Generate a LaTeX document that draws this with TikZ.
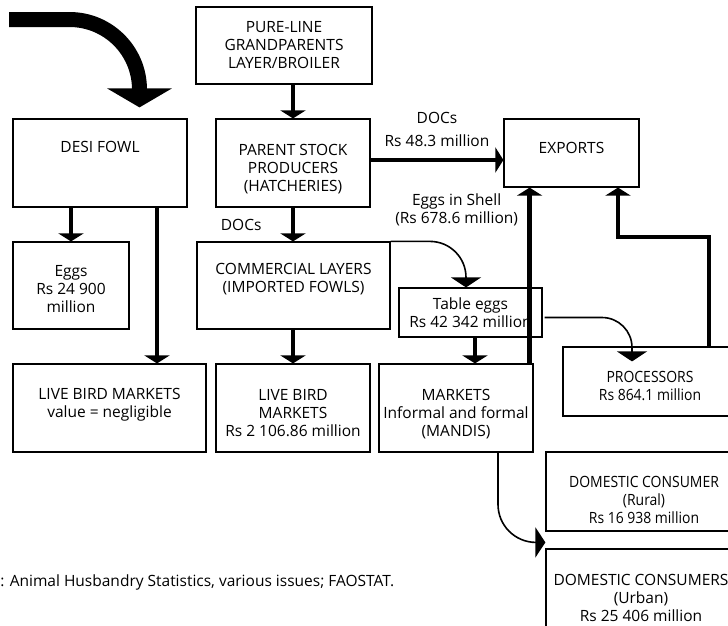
\documentclass[tikz,border=0pt]{standalone}
\usepackage{fontspec}
\setmainfont{Open Sans}
\newfontfamily\narrowsans[FakeStretch=0.9]{Open Sans}
\usetikzlibrary{arrows.meta,positioning}

% struts that move a box's text up or down
\newcommand{\txtup}[1]{\rule[-#1]{0pt}{0pt}}
\newcommand{\txtdown}[1]{\rule{0pt}{#1}}

\begin{document}
\begin{tikzpicture}[
                        x=1pt, y=-1pt,
                        >={Triangle[width=25pt,length=8pt]},
                        font=\fontsize{15.5}{18}\selectfont,
                        semithick
                    ]
                    \tikzstyle{box}=[draw, line width=1.2pt, align=center, inner sep=0pt]
                    \tikzstyle{narrow}=[font=\narrowsans\fontsize{15.5}{18}\selectfont]
                    \tikzstyle{flow}=[->, line width=4.5pt]
                    \tikzstyle{curved}=[-{Triangle[width=30pt,length=10pt]}, line width=1.6pt]

                    \useasboundingbox (0,0) rectangle (728,625);

                    \node[box, minimum width=176pt, minimum height=77pt] (pure)    at (284,45.5)   {PURE-LINE\\GRANDPARENTS\\LAYER/BROILER};
                    \node[box, minimum width=174pt, minimum height=88pt,
                          text depth=32pt]                               (desi)    at (100,163)    {DESI FOWL};
                    \node[box, minimum width=154pt, minimum height=88pt] (parent)  at (293,163)    {\txtdown{24pt}PARENT STOCK\\PRODUCERS\\(HATCHERIES)};
                    \node[box, minimum width=135pt, minimum height=68pt] (exports) at (571.5,153)  {EXPORTS\txtup{10pt}};
                    \node[box, minimum width=116pt, minimum height=87pt] (eggs)    at (71,285.5)   {\txtdown{17.5pt}Eggs\\Rs 24 900\\million};
                    \node[box, minimum width=193pt, minimum height=87pt] (comm)    at (293.5,285.5) {COMMERCIAL LAYERS\\(IMPORTED FOWLS)\txtup{15.5pt}};
                    \node[box, minimum width=143pt, minimum height=49pt] (tegg)    at (470.5,312.5) {Table eggs\\Rs 42 342 million};
                    \node[box, minimum width=193pt, minimum height=88pt] (livel)   at (109.5,408)  {LIVE BIRD MARKETS\\value = negligible\txtup{11pt}};
                    \node[box, minimum width=154pt, minimum height=88pt] (livem)   at (293,408)    {\txtdown{21.5pt}LIVE BIRD\\MARKETS\\Rs 2 106.86 million};
                    \node[box, minimum width=154pt, minimum height=88pt] (mkt)     at (456,408)    {\txtdown{23.5pt}MARKETS\\Informal and formal\\(MANDIS)};
                    \node[box, narrow, minimum width=174pt, minimum height=69pt] (proc) at (650,381.5) {\txtdown{19.5pt}PROCESSORS\\Rs 864.1 million};
                    \node[box, narrow, minimum width=196pt, minimum height=79pt] (rural) at (644,491.5) {\txtdown{28.5pt}DOMESTIC CONSUMER\\(Rural)\\Rs 16 938 million};
                    \node[box, minimum width=190pt, minimum height=98pt] (urban)   at (641,598)    {DOMESTIC CONSUMERS\\(Urban)\\Rs 25 406 million};

                    \node[anchor=west, inner sep=0pt] (src) at (0,582)
                        {: Animal Husbandry Statistics, various issues; FAOSTAT.};

                    % feed arrow coming in from the left
                    \coordinate (feed) at (9,19.5);
                    \draw[line width=15pt, -{Triangle[width=64pt,length=19pt]}, rounded corners=70pt]
                        (feed) -| ([xshift=39.5pt,yshift=11pt]desi.north);

                    \draw[flow] (pure.south -| parent.north) -- (parent.north);
                    \draw[flow] (desi.south -| eggs.north) -- (eggs.north);
                    \draw[flow] ([xshift=57pt]desi.south) -- ([xshift=57pt]desi.south |- livel.north);
                    \draw[flow] (parent.south) -- node[left=26pt] {DOCs} (comm.north -| parent.south);
                    \draw[flow] ([yshift=3pt]parent.east) -- ([yshift=3pt]parent.east -| exports.west)
                        node[midway, above=8pt, align=center] {DOCs\\[5pt]Rs 48.3 million};
                    \draw[flow] (comm.south -| livem.north) -- (livem.north);
                    \draw[flow] ([xshift=4.5pt]tegg.south) -- ([xshift=4.5pt]tegg.south |- mkt.north);
                    \draw[flow] ([xshift=-4pt]mkt.north east) -- ([xshift=-4pt]mkt.north east |- exports.south)
                        node[pos=0.875, left=6pt, align=center] {Eggs in Shell\\(Rs 678.6 million)};

                    \coordinate (pbend) at (618,237);
                    \draw[flow] ([xshift=59pt]proc.north) |- (pbend) -- (pbend |- exports.south);

                    % thin curved flows
                    \draw[curved, rounded corners=36pt] (comm.north east) -| ([xshift=-4.5pt]tegg.north);
                    \draw[curved, rounded corners=30pt, shorten <=2pt]
                        ([yshift=-5pt]tegg.east) -| ([xshift=-18pt,yshift=-15pt]proc.north);
                    \draw[curved, rounded corners=38pt] ([xshift=42pt]mkt.south) |- ([yshift=6pt]urban.north west);

                \end{tikzpicture}
\end{document}
